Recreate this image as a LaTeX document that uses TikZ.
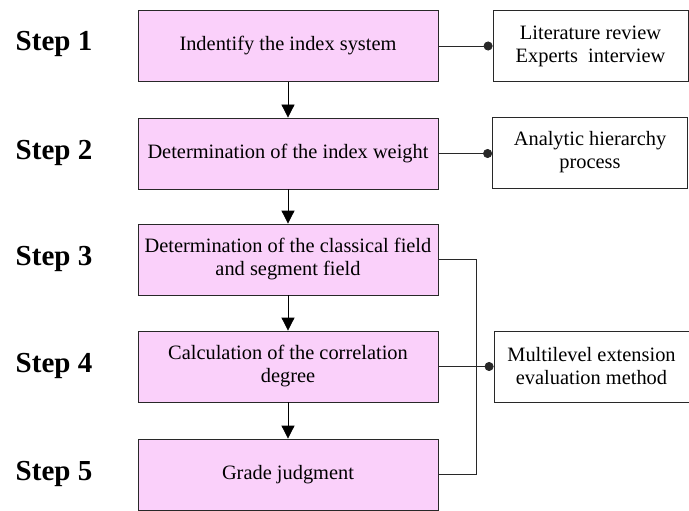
\documentclass[tikz,border=0pt]{standalone}
\usepackage{fontspec}
\setmainfont{Liberation Serif}
\usetikzlibrary{arrows.meta}
\definecolor{boxpink}{RGB}{250,208,250}
\definecolor{edge}{RGB}{40,40,40}
\begin{document}
\begin{tikzpicture}[x=1pt,y=-1pt,
  mainbox/.style={draw=edge,line width=0.8pt,fill=boxpink,minimum width=300pt,minimum height=71pt,align=center,font=\fontsize{20.4}{23}\selectfont,inner sep=2pt},
  sidebox/.style={draw=edge,line width=0.8pt,fill=white,minimum width=195pt,minimum height=71pt,align=center,font=\fontsize{20.4}{23}\selectfont,inner sep=2pt},
  steplabel/.style={font=\fontsize{29}{32}\selectfont\bfseries,anchor=base},
  flow/.style={line width=0.8pt,-{Triangle[width=13pt,length=13pt]}},
  link/.style={line width=0.8pt,draw=edge,-{Circle[length=9pt,width=9pt]}},
  bracket/.style={line width=0.8pt,draw=edge}]
\useasboundingbox (0,0) rectangle (689,511);
\node[mainbox] (b1) at (288,46) {Indentify the index system};
\node[mainbox] (b2) at (288,153.5) {Determination of the index weight};
\node[mainbox] (b3) at (288,259.5) {Determination of the classical field\\and segment field};
\node[mainbox] (b4) at (288,366.5) {Calculation of the correlation\\degree};
\node[mainbox] (b5) at (288,474.5) {Grade judgment};
\node[sidebox] (r1) at (590.5,46) {Literature review\\Experts~ interview};
\node[sidebox] (r2) at (590,152.5) {Analytic hierarchy\\process};
\node[sidebox] (r3) at (591.5,366.5) {Multilevel extension\\evaluation method};
\node[steplabel] (s1) at (54,50.5) {Step 1};
\node[steplabel] (s2) at (54,159) {Step 2};
\node[steplabel] (s3) at (54,265) {Step 3};
\node[steplabel] (s4) at (54,372) {Step 4};
\node[steplabel] (s5) at (54,480) {Step 5};
\draw[flow] (b1) -- (b2);
\draw[flow] (b2) -- (b3);
\draw[flow] (b3) -- (b4);
\draw[flow] (b4) -- (b5);
\draw[link] (b1.east) -- (r1.west);
\draw[link] (b2.east) -- (b2.east -| r2.west);
\draw[link] (b4.east) -- (r3.west);
\draw[bracket] (b3.east) -- ++(38,0) |- (b5.east);
\end{tikzpicture}
\end{document}
